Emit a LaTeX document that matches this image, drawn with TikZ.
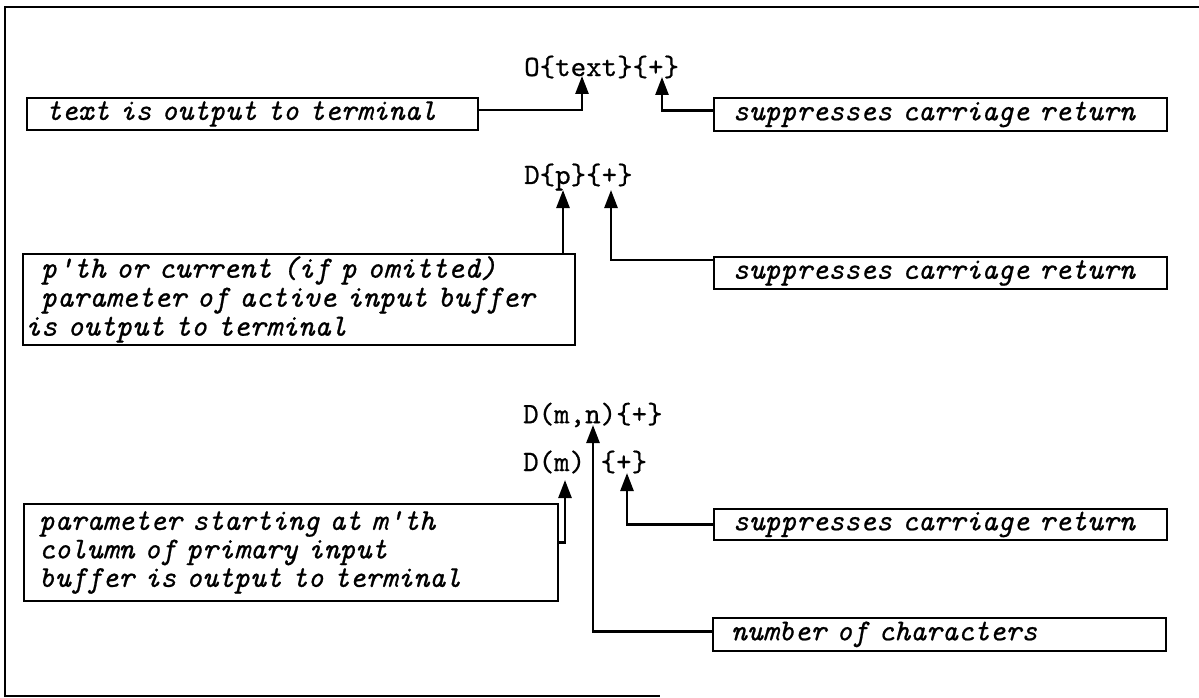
\documentclass[tikz,border=0pt]{standalone}
\usepackage{fontspec}
\newfontfamily\notefont{lmmono10-italic.otf}[FakeBold=0.7]
\newfontfamily\codefont{lmmono10-regular.otf}[FakeBold=0.7]
\usetikzlibrary{arrows.meta}
\tikzset{note/.style={draw,line width=1.8pt,anchor=north west,inner ysep=0pt,align=left,font=\notefont\fontsize{30.3}{28.5}\selectfont},
code/.style={anchor=west,inner sep=0pt,font=\codefont\fontsize{29.5}{29}\selectfont},
ptr/.style={draw,line width=2.6pt,-{Triangle[length=18pt,width=13pt]}}}
\begin{document}
\begin{tikzpicture}[x=1pt,y=-1pt]
\useasboundingbox (0,0) rectangle (1199,698);
\draw[line width=1.8pt] (1199,7)--(5,7)--(5,696)--(660,696);
% code lines
\node[code] (o1) at (524,67) {O\{text\}\{+\}};
\node[code] (d1) at (524,177) {D\{p\}\{+\}};
\node[code] (d2) at (523,415) {D(m,n)\{+\}};
\node[code] (d3) at (523,462) {D(m)\ \{+\}};
% arrow tips
\coordinate (t1) at (582,76);
\coordinate (t2) at (662,77);
\coordinate (t3) at (563,190);
\coordinate (t4) at (611,190);
\coordinate (t5) at (565,480);
\coordinate (t6) at (627,473);
\coordinate (t7) at (593,425);
% notes
\node[note,inner xsep=19pt,text width=413pt,minimum height=32pt] (b1) at (26,97) {text is output to terminal};
\node[note,inner xsep=19pt,text width=415pt,minimum height=33pt] (r1) at (713,97) {suppresses carriage return};
\node[note,inner xsep=2pt,text width=548pt,minimum height=91pt,font=\notefont\fontsize{30.8}{29}\selectfont] (b2) at (22,253) {\hspace{16pt}p\textquotesingle th or current (if p omitted)\\\hspace{16pt}parameter of active input buffer\\is output to terminal};
\node[note,inner xsep=19pt,text width=415pt,minimum height=32pt] (r2) at (713,256) {suppresses carriage return};
\node[note,inner xsep=15pt,text width=504pt,minimum height=97pt] (b3) at (23,503) {parameter starting at m\textquotesingle th\\column of primary input\\buffer is output to terminal};
\node[note,inner xsep=19pt,text width=415pt,minimum height=31pt] (r3) at (713,508) {suppresses carriage return};
\node[note,inner xsep=18pt,text width=417pt,minimum height=33pt] (r4) at (712,617) {number of characters};
% pointers
\draw[ptr] ([yshift=4pt]b1.east) -| (t1);
\draw[ptr] ([yshift=4pt]r1.west) -| (t2);
\draw[ptr] (t3 |- b2.north) -- (t3);
\draw[ptr] ([yshift=-4pt]r2.north west) -| (t4);
\draw[ptr] ([yshift=10pt]b3.east) -| (t5);
\draw[ptr] (r3.west) -| (t6);
\draw[ptr] ([yshift=3pt]r4.west) -| (t7);
\end{tikzpicture}
\end{document}
